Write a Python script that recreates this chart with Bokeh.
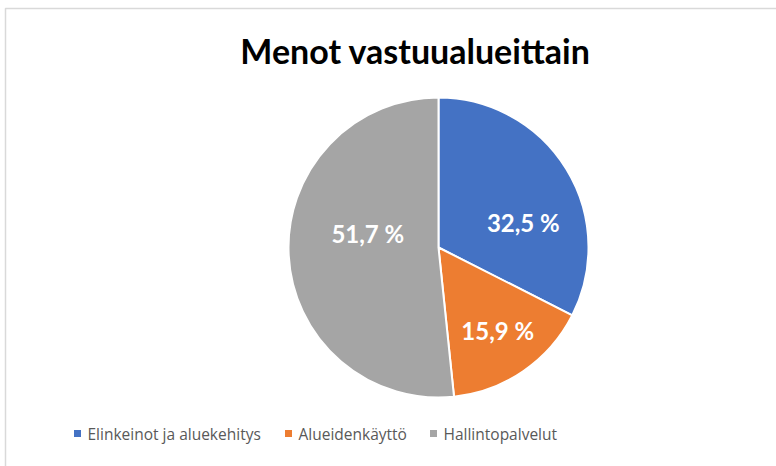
import math
from bokeh.plotting import figure
from bokeh.models import Range1d, ColumnDataSource
from bokeh.core.properties import value
from bokeh.embed import file_html
from bokeh.resources import INLINE

# ---- data ----
categories = ["Elinkeinot ja aluekehitys", "Alueidenkäyttö", "Hallintopalvelut"]
shares = [32.5, 15.9, 51.7]
labels = ["32,5 %", "15,9 %", "51,7 %"]
colors = ["#4472C4", "#ED7D31", "#A5A5A5"]
title = "Menot vastuualueittain"

# ---- layout ----
W, H = 776, 466
CX, CY, R = 438, H - 247, 150
label_rfrac = [0.59, 0.68, 0.48]
label_nudge_deg = [-15, 1, -14]

p = figure(width=W, height=H, x_range=Range1d(0, W), y_range=Range1d(0, H),
           output_backend="svg", toolbar_location=None, min_border=0)
p.axis.visible = False
p.grid.visible = False
p.outline_line_color = None
p.background_fill_color = "white"
p.border_fill_color = "white"

# chart frame
p.line(x=[5, 5, W + 5], y=[-5, H - 8, H - 8], line_color="#D9D9D9", line_width=1.5)

total = sum(shares)
starts, ends, mids = [], [], []
cum = 0.0
for v in shares:
    a0 = math.pi / 2 - 2 * math.pi * cum / total
    cum += v
    a1 = math.pi / 2 - 2 * math.pi * cum / total
    starts.append(a0)
    ends.append(a1)
    mids.append((a0 + a1) / 2)

src = ColumnDataSource(dict(start=starts, end=ends, color=colors))
p.wedge(x=CX, y=CY, radius=R, start_angle="start", end_angle="end", direction="clock",
        fill_color="color", line_color="white", line_width=2, source=src)

lx, ly = [], []
for m, f, n in zip(mids, label_rfrac, label_nudge_deg):
    a = m + math.radians(n)
    lx.append(CX + R * f * math.cos(a))
    ly.append(CY + R * f * math.sin(a))
p.text(x=lx, y=ly, text=labels, text_color="white", text_font=value("Lato"),
       text_font_style="bold", text_font_size="24px", text_align="center",
       text_baseline="middle")

# title
p.text(x=[415], y=[H - 50], text=[title], text_color="black", text_font=value("Lato"),
       text_font_style="bold", text_font_size="34px", text_align="center",
       text_baseline="middle")

# legend
leg_x = [77, 288, 433]
leg_y = H - 433
p.scatter(x=leg_x, y=[leg_y] * 3, marker="square", size=7, fill_color=colors, line_color=None)
p.text(x=[x + 10 for x in leg_x], y=[leg_y] * 3, text=categories, text_color="#595959",
       text_font=value("Open Sans"), text_font_size="15.5px", text_align="left",
       text_baseline="middle")

open("out.html", "w").write(file_html(p, INLINE))
